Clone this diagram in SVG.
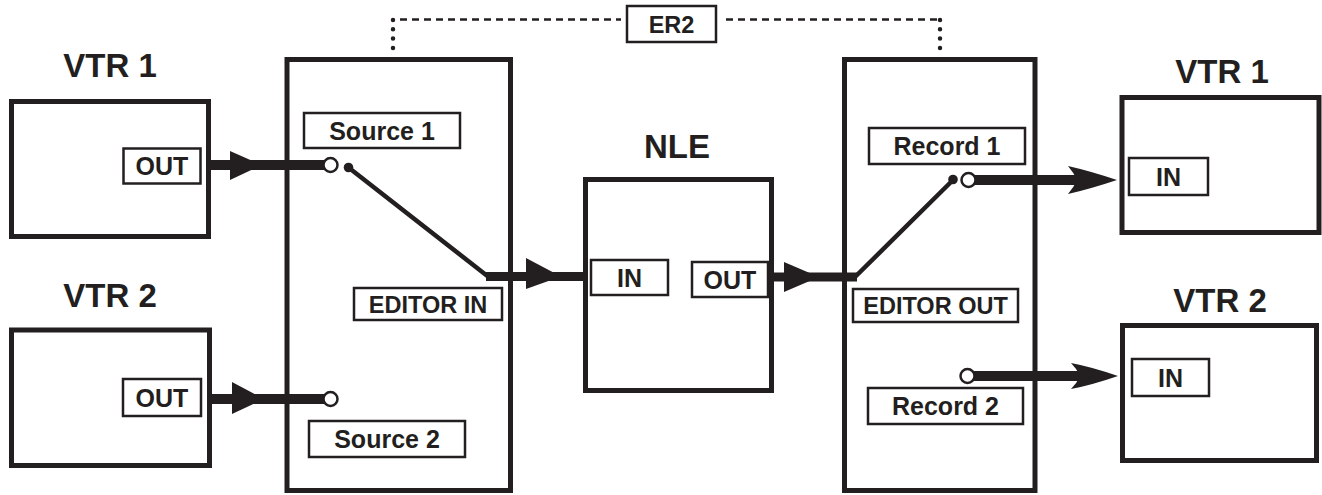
<svg xmlns="http://www.w3.org/2000/svg" width="1322" height="495" viewBox="0 0 1322 495">
  <style>
    .box { fill: #fff; stroke: #231f20; stroke-width: 5; }
    .lbl { fill: #fff; stroke: #231f20; stroke-width: 2.5; }
    .title { font-family: "Liberation Sans", Arial, sans-serif; font-weight: bold; font-size: 33px; fill: #231f20; text-anchor: middle; }
    .txt { font-family: "Liberation Sans", Arial, sans-serif; font-weight: bold; font-size: 25px; fill: #231f20; text-anchor: middle; }
    .small { font-size: 23.5px; }
    .wire { stroke: #231f20; stroke-width: 10; fill: none; }
    .sw { stroke: #231f20; stroke-width: 4.5; fill: none; stroke-linecap: round; }
    .head { fill: #231f20; }
    .jack { fill: #fff; stroke: #231f20; stroke-width: 2.5; }
    .pivot { fill: #231f20; }
    .dash { stroke: #231f20; stroke-width: 2.5; stroke-dasharray: 7 5; fill: none; }
    .dots { stroke: #231f20; stroke-width: 4.5; stroke-dasharray: 0 9.3; stroke-linecap: round; fill: none; }
  </style>

  <!-- ER2 remote link between the two switchers -->
  <g id="er2">
    <path class="dots" d="M393 20 V49"/>
    <path class="dash" d="M400 19.5 H621"/>
    <path class="dash" d="M726 19.5 H937"/>
    <path class="dots" d="M940 20 V53"/>
    <rect class="lbl" x="627" y="6" width="89" height="36"/>
    <text class="txt small" x="671.5" y="33">ER2</text>
  </g>

  <!-- Source VTR 1 -->
  <g id="vtr1-src">
    <text class="title" x="110" y="77">VTR 1</text>
    <rect class="box" x="11.5" y="101.5" width="197" height="135"/>
    <rect class="lbl" x="123.5" y="148.5" width="77" height="35"/>
    <text class="txt" x="162" y="175">OUT</text>
  </g>

  <!-- Source VTR 2 -->
  <g id="vtr2-src">
    <text class="title" x="110" y="307">VTR 2</text>
    <rect class="box" x="11.5" y="330" width="198" height="135.5"/>
    <rect class="lbl" x="123" y="379" width="78" height="37"/>
    <text class="txt" x="162" y="406.5">OUT</text>
  </g>

  <!-- Input switcher -->
  <g id="editor-in">
    <rect class="box" x="287" y="59.5" width="223.5" height="431"/>
    <rect class="lbl" x="304" y="113" width="156" height="35"/>
    <text class="txt" x="382" y="139.5">Source 1</text>
    <rect class="lbl" x="354" y="288" width="148" height="32"/>
    <text class="txt small" x="428" y="312.5">EDITOR IN</text>
    <rect class="lbl" x="309" y="421" width="156" height="36"/>
    <text class="txt" x="387" y="448">Source 2</text>
  </g>

  <!-- NLE -->
  <g id="nle">
    <text class="title" x="677" y="158">NLE</text>
    <rect class="box" x="585.5" y="179.5" width="186" height="211"/>
    <rect class="lbl" x="591" y="260" width="77" height="35"/>
    <text class="txt" x="629.5" y="286.5">IN</text>
    <rect class="lbl" x="692" y="262" width="76" height="35"/>
    <text class="txt" x="730" y="288.5">OUT</text>
  </g>

  <!-- Output switcher -->
  <g id="editor-out">
    <rect class="box" x="844.5" y="59.5" width="190.5" height="431"/>
    <rect class="lbl" x="869" y="128" width="156" height="36"/>
    <text class="txt" x="947" y="155">Record 1</text>
    <rect class="lbl" x="853" y="289" width="165" height="33"/>
    <text class="txt small" x="935.5" y="314">EDITOR OUT</text>
    <rect class="lbl" x="868" y="388" width="155" height="36"/>
    <text class="txt" x="945.5" y="415">Record 2</text>
  </g>

  <!-- Record VTR 1 -->
  <g id="vtr1-rec">
    <text class="title" x="1222" y="83">VTR 1</text>
    <rect class="box" x="1122" y="97.5" width="197" height="135"/>
    <rect class="lbl" x="1129" y="158" width="79" height="37"/>
    <text class="txt" x="1168.5" y="185.5">IN</text>
  </g>

  <!-- Record VTR 2 -->
  <g id="vtr2-rec">
    <text class="title" x="1220" y="312">VTR 2</text>
    <rect class="box" x="1122.5" y="325.5" width="194" height="135"/>
    <rect class="lbl" x="1132" y="359" width="77" height="37"/>
    <text class="txt" x="1170.5" y="386.5">IN</text>
  </g>

  <!-- Signal paths -->
  <g id="connectors">
    <!-- VTR 1 OUT to Source 1 -->
    <path class="wire" d="M209 165 H324"/>
    <path class="head" d="M230 151 L262 165 L230 180 Z"/>
    <!-- VTR 2 OUT to Source 2 -->
    <path class="wire" d="M209 399 H324"/>
    <path class="head" d="M232 382 L264 399 L232 414 Z"/>
    <!-- input switch arm -->
    <path class="sw" d="M348.5 167.5 L488 276.5"/>
    <!-- EDITOR IN to NLE IN -->
    <path class="wire" d="M486 276.5 H585" style="stroke-width:9"/>
    <path class="head" d="M526 258 L561 276.5 L526 289 Z"/>
    <!-- NLE OUT to EDITOR OUT -->
    <path class="wire" d="M772 277 H857" style="stroke-width:9"/>
    <path class="head" d="M784 262 L819 277 L784 292 Z"/>
    <!-- output switch arm -->
    <path class="sw" d="M855 277 L953 180"/>
    <!-- Record 1 to VTR 1 IN -->
    <path class="wire" d="M975 180 H1078"/>
    <path class="head" d="M1117 180 Q1090 171 1068 166 Q1074 173 1077 180 Q1074 187 1068 194 Q1090 189 1117 180 Z"/>
    <!-- Record 2 to VTR 2 IN -->
    <path class="wire" d="M974 376 H1081"/>
    <path class="head" d="M1118 376 Q1092 367 1071 363 Q1077 369 1080 376 Q1077 383 1071 389 Q1092 385 1118 376 Z"/>
    <!-- switch contacts -->
    <circle class="jack" cx="330.5" cy="165" r="7"/>
    <circle class="pivot" cx="348.5" cy="167.5" r="4.8"/>
    <circle class="jack" cx="330.5" cy="399" r="7"/>
    <circle class="pivot" cx="953" cy="179.5" r="4.8"/>
    <circle class="jack" cx="968.5" cy="180" r="7"/>
    <circle class="jack" cx="967.5" cy="376" r="7"/>
  </g>
</svg>
